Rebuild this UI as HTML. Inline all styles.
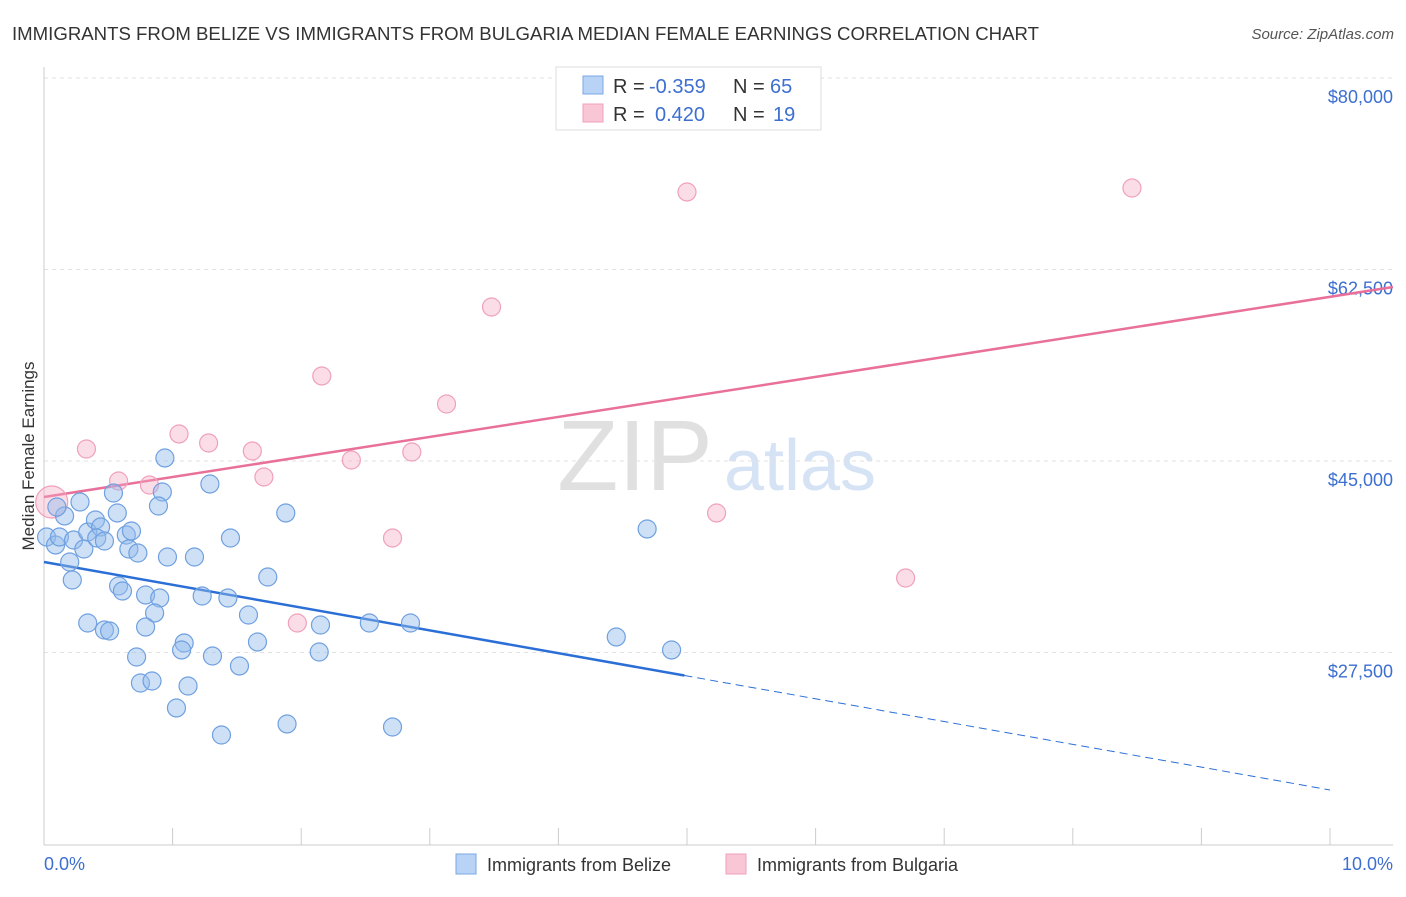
<!DOCTYPE html>
<html><head><meta charset="utf-8">
<style>
body{margin:0;background:#fff;font-family:"Liberation Sans",sans-serif;}
svg text{font-family:"Liberation Sans",sans-serif;}
</style></head>
<body>
<svg id="chart" width="1406" height="892" xmlns="http://www.w3.org/2000/svg">
<text x="12" y="40" font-size="18" fill="#333" textLength="1027" lengthAdjust="spacingAndGlyphs">IMMIGRANTS FROM BELIZE VS IMMIGRANTS FROM BULGARIA MEDIAN FEMALE EARNINGS CORRELATION CHART</text>
<text x="1394" y="39" font-size="15" fill="#555" font-style="italic" text-anchor="end">Source: ZipAtlas.com</text>
<text x="635" y="490" font-size="100" fill="#e0e0e0" font-family="Liberation Serif" text-anchor="middle">ZIP</text>
<text x="800" y="490" font-size="72" fill="#d5e3f5" text-anchor="middle">atlas</text>
<g id="grid"></g><g id="axes"></g><g id="lines"></g><g id="dots"></g>
<text transform="translate(34,456) rotate(-90)" font-size="17" fill="#333" text-anchor="middle">Median Female Earnings</text>
<g>
<rect x="556" y="67" width="265" height="63" fill="#fff" stroke="#ddd"/>
<rect x="583" y="76" width="20" height="18" fill="#b8d3f5" stroke="#7aa7e3"/>
<rect x="583" y="104" width="20" height="18" fill="#f9c6d6" stroke="#f0a0bb"/>
<text x="613" y="93" font-size="20" fill="#333">R =</text>
<text x="649" y="93" font-size="20" fill="#3d6fd0">-0.359</text>
<text x="733" y="93" font-size="20" fill="#333">N =</text>
<text x="770" y="93" font-size="20" fill="#3d6fd0">65</text>
<text x="613" y="121" font-size="20" fill="#333">R =</text>
<text x="655" y="121" font-size="20" fill="#3d6fd0">0.420</text>
<text x="733" y="121" font-size="20" fill="#333">N =</text>
<text x="773" y="121" font-size="20" fill="#3d6fd0">19</text>
</g>
<g>
<rect x="456" y="854" width="20" height="20" fill="#b8d3f5" stroke="#7aa7e3"/>
<text x="487" y="871" font-size="18" fill="#333">Immigrants from Belize</text>
<rect x="726" y="854" width="20" height="20" fill="#f9c6d6" stroke="#f0a0bb"/>
<text x="757" y="871" font-size="18" fill="#333">Immigrants from Bulgaria</text>
</g>
</svg>
<script>
const yTicks=[80000,62500,45000,27500];
const yTickLabels=["$80,000","$62,500","$45,000","$27,500"];
const xTickLabels=["0.0%","10.0%"];
const belizeX=[.02,.09,.12,.16,.10,.23,.20,.22,.28,.31,.34,.40,.44,.41,.47,.54,.57,.64,.68,.66,.73,.94,.92,.89,1.29,1.45,1.88,.96,1.17,.58,.61,.79,.90,1.23,1.43,1.74,.86,1.59,.34,.47,.51,.79,1.09,1.07,1.31,1.52,1.66,2.15,2.53,2.85,2.14,.72,.75,.84,1.12,1.03,1.38,1.89,2.71,4.45,4.69,4.88];
const belizeY=[38057,37326,38057,39976,40798,37782,35772,34127,41255,36960,38513,39610,38970,37965,37691,42077,40250,38239,38605,36960,36594,45276,42169,40889,42900,37965,40250,36229,36229,33579,33122,32757,32482,32665,32482,34401,31112,30929,30198,29558,29467,29832,28370,27731,27182,26269,28462,30015,30198,30198,27548,27091,24715,24898,24441,22431,19963,20969,20694,28919,38788,27731];
const bulgariaX=[.06,.33,.58,.82,1.05,1.28,1.62,1.71,1.97,2.16,2.39,2.71,2.86,3.13,3.48,5.00,5.23,6.70,8.46];
const bulgariaY=[41255,46098,43174,42808,47469,46646,45915,43539,30198,52769,45093,37965,45824,50210,59074,69583,40250,34310,69948];
const belizeTrend=[35772,-2083];
const bulgariaTrend=[41712,1829];
const X=v=>44+v*128.6, Y=v=>78+(80000-v)/91.38;
const NS="http://www.w3.org/2000/svg";
function mk(tag,attrs,parent){const e=document.createElementNS(NS,tag);for(const k in attrs)e.setAttribute(k,attrs[k]);document.getElementById(parent).appendChild(e);return e;}
yTicks.forEach((t,i)=>{
 const g=mk('line',{x1:44,x2:1393,y1:Y(t),y2:Y(t),stroke:'#e2e2e2','stroke-dasharray':'4,4'},'grid');
 
 
 const l=mk('text',{x:1393,y:Y(t)+25,'font-size':18,fill:'#3d6fd0','text-anchor':'end'},'grid');
 l.textContent=yTickLabels[i];
 
 
});
let a=mk('line',{x1:44,x2:44,y1:67,y2:845,stroke:'#ccc'},'axes');


a=mk('line',{x1:44,x2:1393,y1:845,y2:845,stroke:'#ccc'},'axes');


for(let i=0;i<=10;i++){const t=mk('line',{x1:X(i),x2:X(i),y1:828,y2:845,stroke:'#ccc'},'axes');
 
 }
[[0,'start',44],[10,'end',1393]].forEach((d,i)=>{const t=mk('text',{x:d[2],y:870,'font-size':18,fill:'#3d6fd0','text-anchor':d[1]},'axes');t.textContent=xTickLabels[i];
 
 });
const bt=x=>belizeTrend[0]+belizeTrend[1]*x, pt=x=>bulgariaTrend[0]+bulgariaTrend[1]*x;
let ln=mk('line',{x1:X(0),y1:Y(bt(0)),x2:X(4.98),y2:Y(bt(4.98)),stroke:'#2b6fd6','stroke-width':2.5},'lines');


ln=mk('line',{x1:X(4.98),y1:Y(bt(4.98)),x2:X(10),y2:Y(bt(10)),stroke:'#2b6fd6','stroke-width':1,'stroke-dasharray':'8,5'},'lines');


ln=mk('line',{x1:X(0),y1:Y(pt(0)),x2:X(10.49),y2:Y(pt(10.49)),stroke:'#e8709a','stroke-width':2.5},'lines');


bulgariaX.forEach((x,i)=>{const c=mk('circle',{cx:X(x),cy:Y(bulgariaY[i]),r:i==0?16:9,fill:'rgba(246,170,196,0.4)',stroke:'#f0a0bb','stroke-width':1.2},'dots');
 
 });
belizeX.forEach((x,i)=>{const c=mk('circle',{cx:X(x),cy:Y(belizeY[i]),r:9,fill:'rgba(147,187,236,0.45)',stroke:'#6fa0e0','stroke-width':1.2},'dots');
 
 });
</script>
</body></html>
